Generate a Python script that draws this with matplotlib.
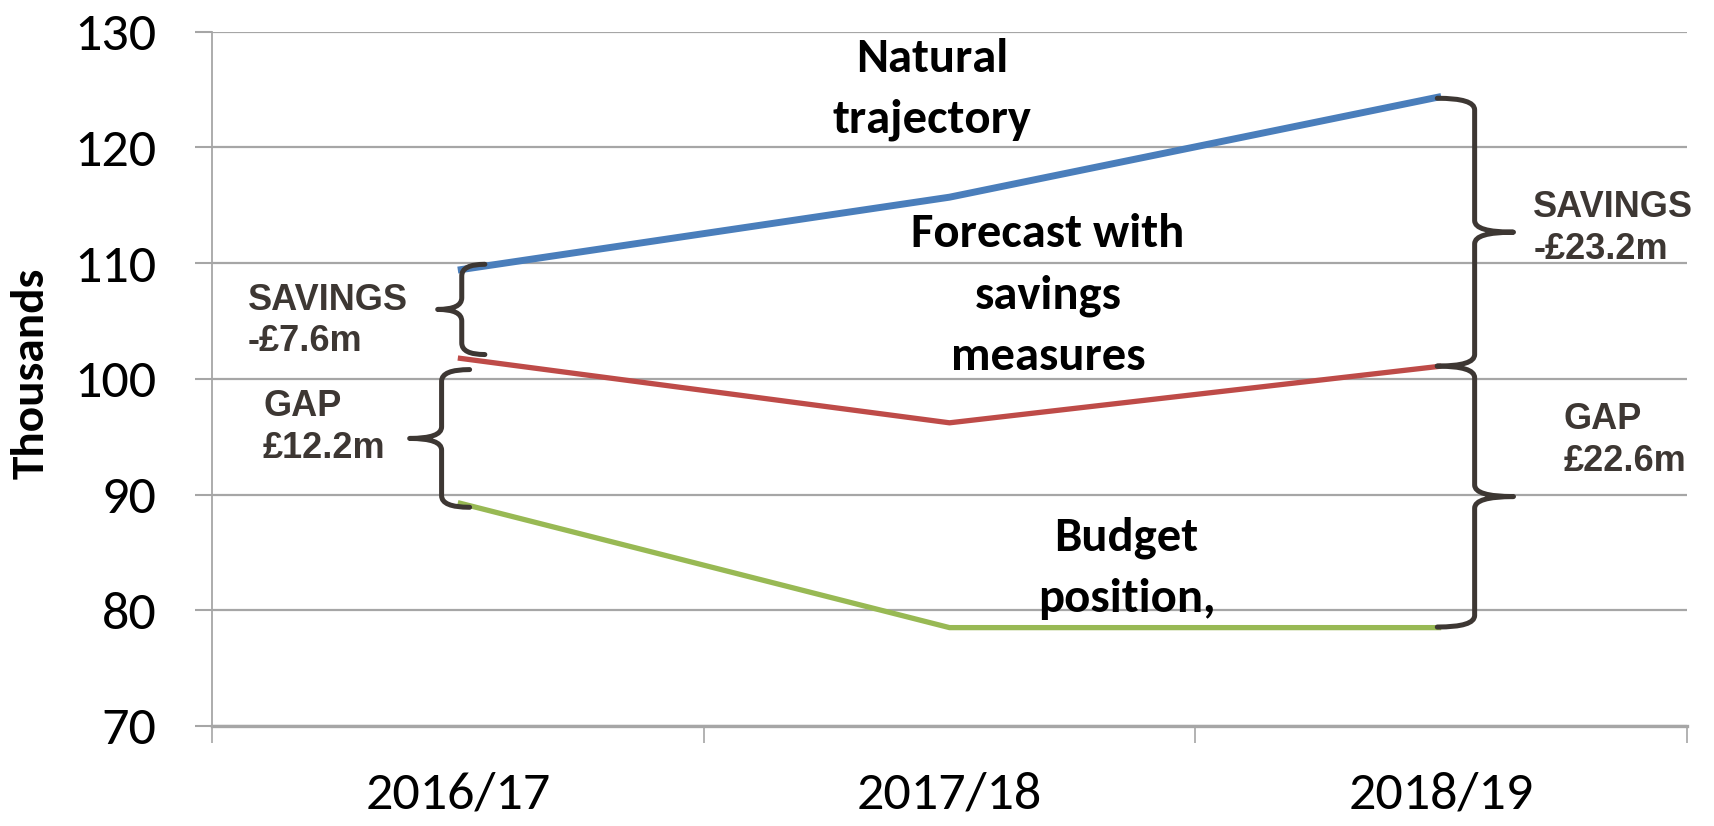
import matplotlib
matplotlib.use("Agg")
import matplotlib.pyplot as plt
from matplotlib.path import Path
from matplotlib.patches import PathPatch
from matplotlib import font_manager

# data, in thousands
years = ["2016/17", "2017/18", "2018/19"]
natural = [109.4, 115.7, 124.4]
forecast = [101.8, 96.2, 101.1]
budget = [89.3, 78.5, 78.5]
y_ticks = [70, 80, 90, 100, 110, 120, 130]

left_savings_label = "SAVINGS\n-£7.6m"
left_gap_label = "GAP\n£12.2m"
right_savings_label = "SAVINGS\n-£23.2m"
right_gap_label = "GAP\n£22.6m"

BLUE = "#4a7ebb"
RED = "#be4b48"
GREEN = "#98b954"
GRID = "#a6a6a6"
BRACE = "#3d3733"

installed = {f.name for f in font_manager.fontManager.ttflist}


def pick(*names):
    for n in names:
        if n in installed:
            return n
    return "DejaVu Sans"


MAIN_FONT = pick("Carlito", "Lato", "Open Sans")
ARIAL = pick("Liberation Sans", "DejaVu Sans")


def draw_brace(ax, y_top, y_bot, x_spine, x_hook, x_tip, r=1.0):
    """Curly brace in data coords; hooks at the ends, tip in the middle."""
    y_mid = (y_top + y_bot) / 2
    verts = [
        (x_hook, y_top),
        (x_spine, y_top), (x_spine, y_top - r),
        (x_spine, y_mid + r),
        (x_spine, y_mid), (x_tip, y_mid),
        (x_spine, y_mid), (x_spine, y_mid - r),
        (x_spine, y_bot + r),
        (x_spine, y_bot), (x_hook, y_bot),
    ]
    codes = [Path.MOVETO,
             Path.CURVE3, Path.CURVE3,
             Path.LINETO,
             Path.CURVE3, Path.CURVE3,
             Path.CURVE3, Path.CURVE3,
             Path.LINETO,
             Path.CURVE3, Path.CURVE3]
    patch = PathPatch(Path(verts, codes), fill=False, edgecolor=BRACE,
                      lw=3.6, capstyle="round", joinstyle="round", zorder=5)
    ax.add_patch(patch)


fig = plt.figure(figsize=(17.15, 8.26), dpi=100)
ax = fig.add_axes([0.1236, 0.1211, 0.8601, 0.8405])

x = list(range(len(years)))
ax.plot(x, natural, color=BLUE, lw=5.0, solid_capstyle="butt", zorder=3)
ax.plot(x, forecast, color=RED, lw=3.8, solid_capstyle="butt", zorder=3)
ax.plot(x, budget, color=GREEN, lw=3.8, solid_capstyle="butt", zorder=3)

ax.set_xlim(-0.5, len(years) - 0.5)
ax.set_ylim(y_ticks[0], y_ticks[-1])

# category boundaries as tick marks, labels in between
ax.set_xticks([i - 0.5 for i in range(len(years) + 1)])
ax.set_xticklabels([])
ax.set_xticks(x, minor=True)
ax.set_xticklabels(years, minor=True, fontsize=39, fontfamily=MAIN_FONT)
ax.tick_params(axis="x", which="major", length=12, width=1.2, color=GRID)
ax.tick_params(axis="x", which="minor", length=0, pad=33)

ax.set_yticks(y_ticks)
ax.set_yticklabels([str(v) for v in y_ticks], fontsize=39, fontfamily=MAIN_FONT)
ax.tick_params(axis="y", length=12, width=1.5, color=GRID, pad=28)

ax.yaxis.grid(True, color=GRID, lw=1.6, zorder=0)
ax.set_axisbelow(True)
for s in ("top", "right"):
    ax.spines[s].set_visible(False)
ax.spines["left"].set_color(GRID)
ax.spines["left"].set_linewidth(1.3)
ax.spines["bottom"].set_color(GRID)
ax.spines["bottom"].set_linewidth(2.4)

fig.text(0.018, 0.548, "Thousands", rotation=90, ha="center", va="center",
         fontsize=34, fontweight="bold", fontfamily=MAIN_FONT)

# braces: left side at first year, right side at last year
draw_brace(ax, natural[0] + 0.5, forecast[0] + 0.3, 0.008, 0.055, -0.041)
draw_brace(ax, forecast[0] - 1.0, budget[0] - 0.4, -0.033, 0.024, -0.098)
draw_brace(ax, natural[-1] - 0.15, forecast[-1], 2.068, 1.992, 2.147)
draw_brace(ax, forecast[-1], budget[-1] + 0.05, 2.068, 1.992, 2.147)

lab = dict(fontsize=26, fontweight="bold", fontfamily=ARIAL, color="#3d3733",
           ha="left", va="center", linespacing=1.25)
ax.text(-0.427, 105.0, left_savings_label, **lab)
ax.text(-0.396, 95.8, left_gap_label, **lab)
ax.text(2.187, 113.0, right_savings_label, **lab)
ax.text(2.248, 94.7, right_gap_label, **lab)

mid = dict(fontsize=35, fontweight="bold", fontfamily=MAIN_FONT, color="black",
           ha="center", va="center", linespacing=1.56)
ax.text(0.965, 125.0, "Natural\ntrajectory", **mid)
ax.text(1.2, 107.2, "Forecast with\nsavings\nmeasures", **mid)
ax.text(1.36, 83.6, "Budget\nposition,", **mid)

fig.savefig("out.png", dpi=100)
